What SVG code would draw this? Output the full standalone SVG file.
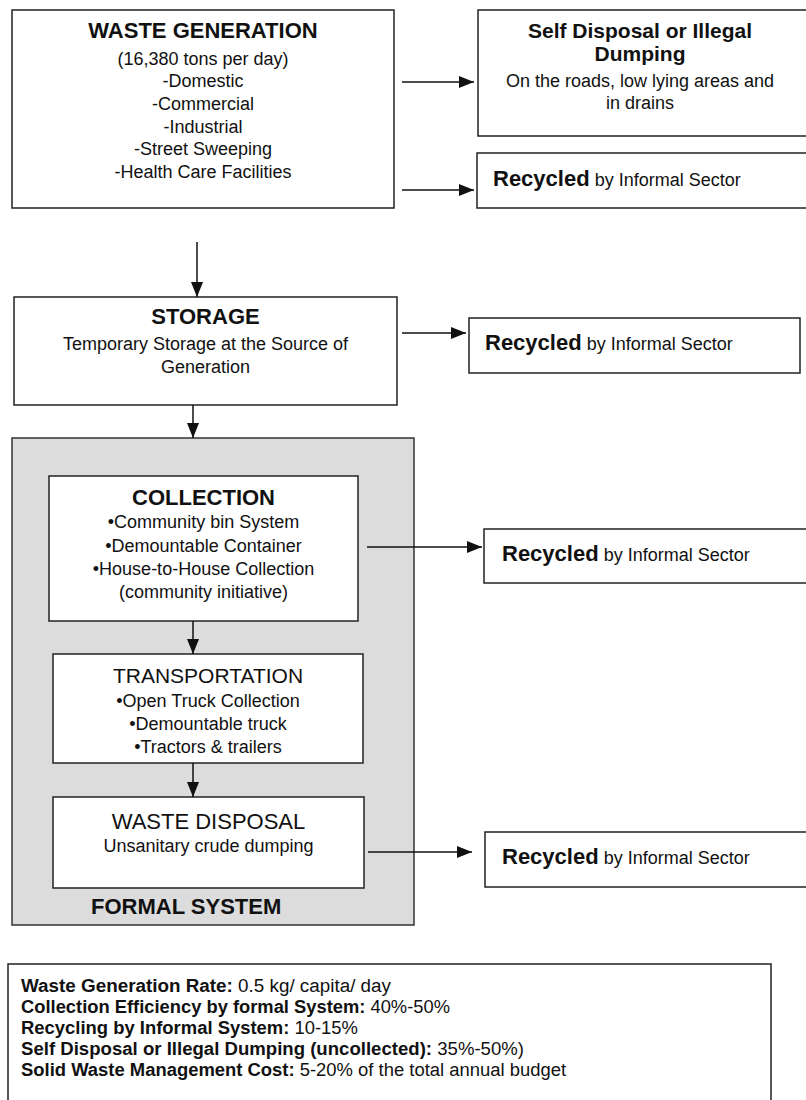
<svg xmlns="http://www.w3.org/2000/svg" width="806" height="1100" viewBox="0 0 806 1100">
<style>
.box{fill:#fff;stroke:#222;stroke-width:1.5}
.gray{fill:#dcdcdc;stroke:#333;stroke-width:1.5}
.t{font-family:"Liberation Sans",Arial,sans-serif;fill:#111}
.b{font-weight:bold}
.h{font-size:22px;font-weight:bold}
.hr{font-size:21px}
.r{font-size:18px}
.c{text-anchor:middle}
.conn{stroke:#111;stroke-width:1.5;fill:none;marker-end:url(#ah)}
.note{font-size:18px}
</style>
<defs>
<marker id="ah" markerUnits="userSpaceOnUse" markerWidth="15" markerHeight="12" refX="15" refY="6" orient="auto">
<path d="M0,0 L15,6 L0,12 Z" fill="#111"/>
</marker>
</defs>

<g id="waste-generation">
<rect class="box" x="12" y="10" width="382" height="198"/>
<text class="t h c" x="203" y="38">WASTE GENERATION</text>
<text class="t r c" x="203" y="65">(16,380 tons per day)</text>
<text class="t r c" x="203" y="87">-Domestic</text>
<text class="t r c" x="203" y="110">-Commercial</text>
<text class="t r c" x="203" y="133">-Industrial</text>
<text class="t r c" x="203" y="155">-Street Sweeping</text>
<text class="t r c" x="203" y="178">-Health Care Facilities</text>
</g>

<g id="self-disposal">
<rect class="box" x="478" y="10" width="335" height="126"/>
<text class="t c" x="640" y="38" style="font-size:21px;font-weight:bold">Self Disposal or Illegal</text>
<text class="t c" x="640" y="61" style="font-size:21px;font-weight:bold">Dumping</text>
<text class="t r c" x="640" y="87">On the roads, low lying areas and</text>
<text class="t r c" x="640" y="109">in drains</text>
</g>

<g id="recycled-1">
<rect class="box" x="477" y="153" width="336" height="55"/>
<text class="t r" x="493" y="186"><tspan class="b" style="font-size:22px">Recycled</tspan> by Informal Sector</text>
</g>

<g id="storage">
<rect class="box" x="14" y="297" width="383" height="108"/>
<text class="t h c" x="205.5" y="324">STORAGE</text>
<text class="t r c" x="205.5" y="350">Temporary Storage at the Source of</text>
<text class="t r c" x="205.5" y="373">Generation</text>
</g>

<g id="recycled-2">
<rect class="box" x="469" y="318" width="331" height="55"/>
<text class="t r" x="485" y="350"><tspan class="b" style="font-size:22px">Recycled</tspan> by Informal Sector</text>
</g>

<g id="formal-system">
<rect class="gray" x="12" y="438" width="402" height="487"/>
<text class="t h" x="91" y="914">FORMAL SYSTEM</text>
</g>

<g id="collection">
<rect class="box" x="49" y="476" width="309" height="145"/>
<text class="t h c" x="203.5" y="505">COLLECTION</text>
<text class="t r c" x="203.5" y="528">•Community bin System</text>
<text class="t r c" x="203.5" y="552">•Demountable Container</text>
<text class="t r c" x="203.5" y="575">•House-to-House Collection</text>
<text class="t r c" x="203.5" y="598">(community initiative)</text>
</g>

<g id="transportation">
<rect class="box" x="53" y="654" width="310" height="109"/>
<text class="t hr c" x="208" y="683">TRANSPORTATION</text>
<text class="t r c" x="208" y="707">•Open Truck Collection</text>
<text class="t r c" x="208" y="730">•Demountable truck</text>
<text class="t r c" x="208" y="753">•Tractors &amp; trailers</text>
</g>

<g id="waste-disposal">
<rect class="box" x="53" y="797" width="311" height="91"/>
<text class="t c" x="208.5" y="829" style="font-size:22px">WASTE DISPOSAL</text>
<text class="t r c" x="208.5" y="852">Unsanitary crude dumping</text>
</g>

<g id="recycled-3">
<rect class="box" x="484" y="529" width="329" height="54"/>
<text class="t r" x="502" y="561"><tspan class="b" style="font-size:22px">Recycled</tspan> by Informal Sector</text>
</g>

<g id="recycled-4">
<rect class="box" x="485" y="832" width="328" height="55"/>
<text class="t r" x="502" y="864"><tspan class="b" style="font-size:22px">Recycled</tspan> by Informal Sector</text>
</g>

<g id="summary">
<rect class="box" x="8" y="964" width="763" height="150"/>
<text class="t note" x="21" y="992" textLength="370" lengthAdjust="spacingAndGlyphs"><tspan class="b">Waste Generation Rate:</tspan> 0.5 kg/ capita/ day</text>
<text class="t note" x="21" y="1013" textLength="429" lengthAdjust="spacingAndGlyphs"><tspan class="b">Collection Efficiency by formal System:</tspan> 40%-50%</text>
<text class="t note" x="21" y="1034" textLength="337" lengthAdjust="spacingAndGlyphs"><tspan class="b">Recycling by Informal System:</tspan> 10-15%</text>
<text class="t note" x="21" y="1055" textLength="503" lengthAdjust="spacingAndGlyphs"><tspan class="b">Self Disposal or Illegal Dumping (uncollected):</tspan> 35%-50%)</text>
<text class="t note" x="21" y="1076" textLength="545" lengthAdjust="spacingAndGlyphs"><tspan class="b">Solid Waste Management Cost:</tspan> 5-20% of the total annual budget</text>
</g>

<g id="connectors">
<line class="conn" x1="402" y1="82" x2="474" y2="82"/>
<line class="conn" x1="402" y1="190" x2="474" y2="190"/>
<line class="conn" x1="197" y1="242" x2="197" y2="297"/>
<line class="conn" x1="402" y1="333" x2="466" y2="333"/>
<line class="conn" x1="193" y1="405" x2="193" y2="438"/>
<line class="conn" x1="367" y1="547" x2="482" y2="547"/>
<line class="conn" x1="193" y1="621" x2="193" y2="654"/>
<line class="conn" x1="193" y1="763" x2="193" y2="797"/>
<line class="conn" x1="368" y1="852" x2="472" y2="852"/>
</g>
</svg>
